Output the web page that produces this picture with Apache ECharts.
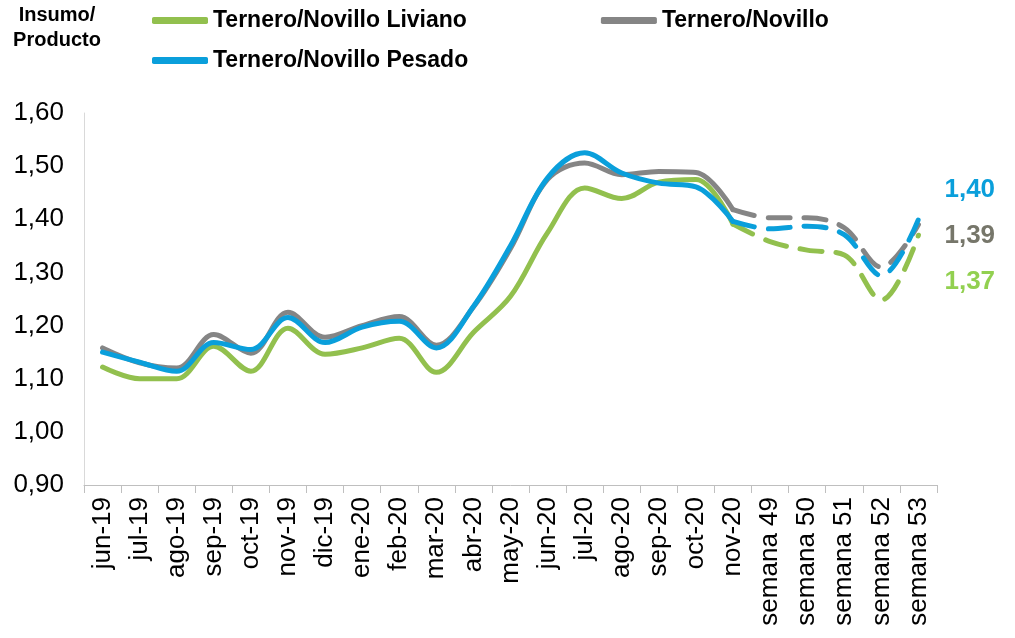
<!DOCTYPE html>
<html>
<head>
<meta charset="utf-8">
<script src="https://cdn.jsdelivr.net/npm/echarts@6/dist/echarts.min.js"></script>
<style>
  html, body { margin: 0; padding: 0; background: #fff; }
  #chart { width: 1015px; height: 638px; }
</style>
</head>
<body>
<div id="chart"></div>
<script>
// categorias: meses y luego semanas
const categories = ['jun-19','jul-19','ago-19','sep-19','oct-19','nov-19','dic-19','ene-20','feb-20','mar-20',
  'abr-20','may-20','jun-20','jul-20','ago-20','sep-20','oct-20','nov-20',
  'semana 49','semana 50','semana 51','semana 52','semana 53'];

// valores mensuales (linea continua)
const livianoMes = [1.122, 1.100, 1.100, 1.161, 1.114, 1.195, 1.146, 1.158, 1.176, 1.112, 1.187, 1.255, 1.375, 1.459, 1.439, 1.470, 1.475, 1.391];
const novilloMes = [1.158, 1.130, 1.120, 1.183, 1.148, 1.225, 1.178, 1.200, 1.217, 1.163, 1.235, 1.345, 1.475, 1.506, 1.484, 1.490, 1.488, 1.418];
const pesadoMes  = [1.150, 1.131, 1.114, 1.168, 1.155, 1.215, 1.168, 1.197, 1.208, 1.158, 1.236, 1.350, 1.478, 1.525, 1.487, 1.468, 1.461, 1.396];

// valores semanales (linea punteada)
const livianoSem = [1.358, 1.342, 1.333, 1.248, 1.37];
const novilloSem = [1.403, 1.403, 1.384, 1.310, 1.39];
const pesadoSem  = [1.382, 1.387, 1.371, 1.294, 1.40];

const yTicks = { min: 0.9, max: 1.6, step: 0.1 };

const nMes = livianoMes.length;
const fmt = v => v.toFixed(2).replace('.', ',');

function solid(vals) {
  return vals.concat(new Array(categories.length - vals.length).fill('-'));
}
function dashed(mes, sem) {
  return new Array(nMes - 1).fill('-').concat([mes[nMes - 1]], sem);
}

const series_def = [
  { name: 'Ternero/Novillo Liviano', color: '#92C04E', labelColor: '#92D050', mes: livianoMes, sem: livianoSem, off: [18, 47] },
  { name: 'Ternero/Novillo', color: '#858585', labelColor: '#76766A', mes: novilloMes, sem: novilloSem, off: [18, 11] },
  { name: 'Ternero/Novillo Pesado', color: '#0A9FDB', labelColor: '#0A9FDB', mes: pesadoMes, sem: pesadoSem, off: [18, -29] }
];

const series = [];
series_def.forEach(s => {
  series.push({
    name: s.name, type: 'line', data: solid(s.mes), smooth: 0.35,
    symbol: 'none', color: s.color,
    lineStyle: { width: 5, color: s.color, cap: 'round', join: 'round' }
  });
  series.push({
    name: s.name, type: 'line', data: dashed(s.mes, s.sem), smooth: 0.35,
    symbol: 'none', color: s.color,
    lineStyle: { width: 5, color: s.color, type: [22, 14], cap: 'round' },
    endLabel: {
      show: true, formatter: p => fmt(p.value), offset: s.off,
      color: s.labelColor, fontSize: 26, fontWeight: 'bold', fontFamily: 'Liberation Sans'
    }
  });
});

const legendText = { fontSize: 23, fontWeight: 'bold', color: '#000', fontFamily: 'Liberation Sans' };

const chart = echarts.init(document.getElementById('chart'), null, { renderer: 'canvas' });
chart.setOption({
  animation: false,
  textStyle: { fontFamily: 'Liberation Sans' },
  graphic: [{
    type: 'text', left: 10, top: 3,
    style: { text: 'Insumo/\nProducto', textAlign: 'center', font: 'bold 20px "Liberation Sans"', lineHeight: 25, fill: '#000', width: 94, align: 'center' }
  }],
  legend: [
    { data: [series_def[0].name, series_def[1].name], left: 147, top: 4, itemGap: 134,
      icon: 'roundRect', itemWidth: 56, itemHeight: 7, textStyle: legendText, itemStyle: { borderWidth: 0 } },
    { data: [series_def[2].name], left: 147, top: 44,
      icon: 'roundRect', itemWidth: 56, itemHeight: 7, textStyle: legendText, itemStyle: { borderWidth: 0 } }
  ],
  grid: { left: 84, right: 78, top: 113, bottom: 153 },
  xAxis: {
    type: 'category', data: categories, boundaryGap: true,
    axisLine: { lineStyle: { color: '#BFBFBF', width: 1 } },
    axisTick: { show: true, interval: 0, length: 8, lineStyle: { color: '#BFBFBF' } },
    axisLabel: { rotate: 90, interval: 0, fontSize: 26, color: '#000', margin: 12 }
  },
  yAxis: {
    type: 'value', min: yTicks.min, max: yTicks.max, interval: yTicks.step,
    axisLine: { show: true, lineStyle: { color: '#D9D9D9' } },
    axisTick: { show: false },
    splitLine: { show: false },
    axisLabel: { fontSize: 26, color: '#000', margin: 20, formatter: v => fmt(v) }
  },
  series: series
});
</script>
</body>
</html>
